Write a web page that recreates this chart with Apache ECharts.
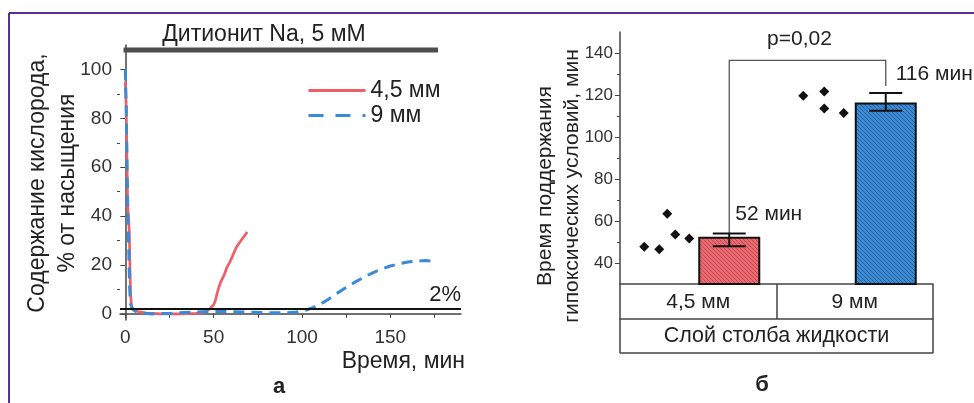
<!DOCTYPE html>
<html>
<head>
<meta charset="utf-8">
<script src="https://cdn.jsdelivr.net/npm/echarts@6/dist/echarts.min.js"></script>
<style>
html,body{margin:0;padding:0;background:#fff;}
#c{width:974px;height:403px;}
</style>
</head>
<body>
<div id="c"></div>
<script>
// ---------- DATA: panel а ----------
const times45 = [0, 0.5, 1, 1.3, 1.8, 2.3, 2.6, 3, 3.5, 5, 8, 12, 20, 30, 40, 44, 46, 48, 50, 51, 52, 53, 54, 55, 56, 57.5, 59, 60, 61.5, 63, 64.5, 66, 67.5, 69];
const o2_45   = [95, 85, 60, 45, 40, 33, 20, 8, 3, 1.5, 0.8, 0.3, 0, 0, 0.2, 0.6, 1.2, 2.2, 3.8, 5.5, 8.5, 11, 13, 14.5, 16, 19, 21, 22.5, 25, 27.5, 29, 30.5, 32, 33.5];
const times9  = [0, 0.5, 1, 1.5, 2, 2.5, 3, 4, 6, 10, 15, 25, 40, 50, 60, 70, 80, 90, 97, 102, 106, 110, 115, 120, 125, 130, 135, 140, 145, 150, 155, 160, 165, 170, 175];
const o2_9    = [100, 85, 60, 40, 25, 10, 4, 2, 1, 0.3, 0, 0.2, 0.8, 1, 0.9, 0.7, 0.5, 0.4, 0.8, 1.5, 2.5, 3.8, 6, 8.5, 10.8, 13, 15, 16.8, 18.3, 19.6, 20.5, 21.2, 21.6, 21.8, 21.5];
const seriesNamesA = ['4,5 мм', '9 мм'];
const thresholdPct = 2;
const dithioniteSpan = [-1, 177];
const dithioniteLevel = 108;
const xTicksA = [0, 50, 100, 150];
const xMinorTicksA = [25, 75, 125, 175];
const yTicksA = [0, 20, 40, 60, 80, 100];
const yMinorTicksA = [10, 30, 50, 70, 90];

// ---------- DATA: panel б ----------
const groups = ['4,5 мм', '9 мм'];
const meanMin = [52, 116];
const errLow = [48, 112.5];
const errHigh = [54, 121];
const points45 = [47.7, 46.5, 63.5, 53.6, 51.7];
const points9 = [119.6, 121.7, 113.6, 111.4];
const bracketLevel = 136.5;
const pLabel = 'p=0,02';
const yTicksB = [40, 60, 80, 100, 120, 140];
const yMinorTicksB = [50, 70, 90, 110, 130];
const groupAxisLabel = ['Слой столба жидкости'];

// ---------- STYLE ----------
const FONT = '"Liberation Sans", Arial, sans-serif';
const AX = '#444';
const BAR_SHIFT = 31, BAR_W = 60, CAP_W = 33;
const JITTER = [[-54, -39, -31, -23, -9], [-51.5, -30.5, -30.5, -11]];
const Y_MIN_B = 30;
const RED = '#ef5d66', BLUE = '#3a8ad6';

function hatch(base, stripe) {
  const c = document.createElement('canvas');
  c.width = 4; c.height = 4;
  const g = c.getContext('2d');
  g.fillStyle = base; g.fillRect(0, 0, 4, 4);
  g.strokeStyle = stripe; g.lineWidth = 1;
  g.beginPath();
  g.moveTo(-1, -1); g.lineTo(5, 5);
  g.moveTo(-1, 3); g.lineTo(1, 5);
  g.moveTo(3, -1); g.lineTo(5, 1);
  g.stroke();
  return { image: c, repeat: 'repeat' };
}
const barFills = [hatch('#ea6a72', 'rgba(150,30,45,0.45)'), hatch('#3d8bd3', 'rgba(15,55,115,0.5)')];

const chart = echarts.init(document.getElementById('c'), null, { renderer: 'canvas' });

function zip(a, b) { return a.map((v, i) => [v, b[i]]); }

const pointData = [];
points45.forEach((v, j) => pointData.push([0, v, j]));
points9.forEach((v, j) => pointData.push([1, v, j]));

function txt(text, x, y, opts) {
  return Object.assign({
    type: 'text', x: x, y: y,
    style: Object.assign({ text: text, fontSize: 23, fontFamily: FONT, fill: '#222', textAlign: 'center', textVerticalAlign: 'middle' }, opts && opts.style || {})
  }, opts && opts.el || {});
}

const option = {
  animation: false,
  textStyle: { fontFamily: FONT },
  grid: [
    { left: 120, top: 45, width: 341, height: 275 },
    { left: 620, top: 32, width: 313, height: 252 }
  ],
  legend: {
    data: [
      { name: seriesNamesA[0], lineStyle: { color: RED, width: 3, type: 'solid' } },
      { name: seriesNamesA[1], lineStyle: { color: BLUE, width: 3, type: [15, 12] } }
    ],
    orient: 'vertical',
    left: 302, top: 74,
    itemWidth: 57, itemHeight: 14, itemGap: 2,
    itemStyle: { opacity: 0 },
    textStyle: { fontSize: 23, color: '#222', fontFamily: FONT }
  },
  xAxis: [
    {
      type: 'value', gridIndex: 0, min: -3, max: 190,
      axisLine: { show: true, lineStyle: { color: AX, width: 1.5 } },
      axisTick: { show: true, customValues: xTicksA.concat(xMinorTicksA), length: 4, lineStyle: { color: AX } },
      axisLabel: { customValues: xTicksA, fontSize: 19, color: '#333', margin: 8, fontFamily: FONT },
      splitLine: { show: false }
    },
    {
      type: 'category', gridIndex: 1, data: groups, position: 'bottom', offset: 0,
      axisLine: { show: true, lineStyle: { color: AX, width: 1.5 } },
      axisTick: { show: true, alignWithLabel: false, interval: 0, length: 35, lineStyle: { color: AX, width: 1.5 } },
      axisLabel: { interval: 0, fontSize: 21, color: '#222', margin: 8, fontFamily: FONT },
      splitLine: { show: false }
    },
    {
      type: 'category', gridIndex: 1, data: groupAxisLabel, position: 'bottom', offset: 35,
      axisLine: { show: true, lineStyle: { color: AX, width: 1.5 } },
      axisTick: { show: true, alignWithLabel: false, interval: 0, length: 34, lineStyle: { color: AX, width: 1.5 } },
      axisLabel: { interval: 0, fontSize: 21.5, color: '#222', margin: 6, fontFamily: FONT },
      splitLine: { show: false }
    }
  ],
  yAxis: [
    {
      type: 'value', gridIndex: 0, min: -2.5, max: 110,
      axisLine: { show: true, lineStyle: { color: AX, width: 1.5 } },
      axisTick: { show: true, customValues: yTicksA, length: 5, lineStyle: { color: AX } },
      axisLabel: { customValues: yTicksA, fontSize: 19, color: '#333', margin: 8, fontFamily: FONT },
      splitLine: { show: false }
    },
    {
      type: 'value', gridIndex: 0, min: -2.5, max: 110, position: 'left',
      axisLine: { show: false },
      axisTick: { show: true, customValues: yMinorTicksA, length: 3, lineStyle: { color: AX } },
      axisLabel: { show: false },
      splitLine: { show: false }
    },
    {
      type: 'value', gridIndex: 1, min: Y_MIN_B, max: 150,
      axisLine: { show: true, lineStyle: { color: AX, width: 1.5 } },
      axisTick: { show: true, customValues: yTicksB, length: 5, lineStyle: { color: AX } },
      axisLabel: { customValues: yTicksB, fontSize: 17, color: '#333', margin: 7, fontFamily: FONT },
      splitLine: { show: false }
    },
    {
      type: 'value', gridIndex: 1, min: Y_MIN_B, max: 150, position: 'left',
      axisLine: { show: false },
      axisTick: { show: true, customValues: yMinorTicksB, length: 3, lineStyle: { color: AX } },
      axisLabel: { show: false },
      splitLine: { show: false }
    }
  ],
  series: [
    {
      name: 'Дитионит Na, 5 мМ', type: 'line', xAxisIndex: 0, yAxisIndex: 0,
      data: [[dithioniteSpan[0], dithioniteLevel], [dithioniteSpan[1], dithioniteLevel]],
      symbol: 'none', lineStyle: { color: '#4d4d4d', width: 5 }, itemStyle: { color: '#4d4d4d' }, clip: false, z: 2
    },
    {
      name: seriesNamesA[0], type: 'line', xAxisIndex: 0, yAxisIndex: 0,
      data: zip(times45, o2_45), symbol: 'none',
      lineStyle: { color: RED, width: 2.7 }, itemStyle: { color: RED }, z: 3,
      markLine: {
        silent: true, symbol: 'none', z: 4,
        data: [{ yAxis: thresholdPct }],
        lineStyle: { color: '#111', width: 2, type: 'solid' },
        label: { show: true, formatter: thresholdPct + '%', position: 'insideEndTop', fontSize: 22, color: '#222', fontFamily: FONT, distance: [0, 3] }
      }
    },
    {
      name: seriesNamesA[1], type: 'line', xAxisIndex: 0, yAxisIndex: 0,
      data: zip(times9, o2_9), symbol: 'none',
      lineStyle: { color: BLUE, width: 3, type: [11, 7] }, itemStyle: { color: BLUE }, z: 3
    },
    {
      type: 'custom', xAxisIndex: 1, yAxisIndex: 2, z: 3,
      data: groups.map((g, i) => [i, meanMin[i], errLow[i], errHigh[i]]),
      renderItem: function (params, api) {
        const i = api.value(0);
        const top = api.coord([i, api.value(1)]);
        const base = api.coord([i, Y_MIN_B]);
        const lo = api.coord([i, api.value(2)]);
        const hi = api.coord([i, api.value(3)]);
        const cx = top[0] + BAR_SHIFT;
        return {
          type: 'group', children: [
            { type: 'rect', shape: { x: cx - BAR_W / 2, y: top[1], width: BAR_W, height: base[1] - top[1] },
              style: { fill: barFills[i], stroke: '#111', lineWidth: 2 } },
            { type: 'line', shape: { x1: cx, y1: lo[1], x2: cx, y2: hi[1] }, style: { stroke: '#111', lineWidth: 2 } },
            { type: 'line', shape: { x1: cx - CAP_W / 2, y1: lo[1], x2: cx + CAP_W / 2, y2: lo[1] }, style: { stroke: '#111', lineWidth: 2 } },
            { type: 'line', shape: { x1: cx - CAP_W / 2, y1: hi[1], x2: cx + CAP_W / 2, y2: hi[1] }, style: { stroke: '#111', lineWidth: 2 } },
            { type: 'text', x: cx + 6 + i * 4, y: hi[1] - 19,
              style: { text: api.value(1) + ' мин', fontSize: 21, fontFamily: FONT, fill: '#222', textAlign: 'left', textVerticalAlign: 'middle' } }
          ]
        };
      }
    },
    {
      type: 'custom', xAxisIndex: 1, yAxisIndex: 2, z: 4,
      data: pointData,
      renderItem: function (params, api) {
        const c = api.value(0);
        const p = api.coord([c, api.value(1)]);
        const x = p[0] + JITTER[c][api.value(2)], y = p[1], r = 5;
        return { type: 'polygon', shape: { points: [[x, y - r], [x + r, y], [x, y + r], [x - r, y]] }, style: { fill: '#111' } };
      }
    },
    {
      type: 'custom', xAxisIndex: 1, yAxisIndex: 2, z: 2,
      data: [[0, 1]],
      renderItem: function (params, api) {
        const a = api.coord([api.value(0), errHigh[0]]);
        const b = api.coord([api.value(1), errHigh[1]]);
        const lvl = api.coord([0, bracketLevel])[1];
        const xa = a[0] + BAR_SHIFT, xb = b[0] + BAR_SHIFT;
        return {
          type: 'group', children: [
            { type: 'polyline', shape: { points: [[xa, a[1]], [xa, lvl], [xb, lvl], [xb, b[1] - 7]] }, style: { stroke: '#555', lineWidth: 1.3, fill: null } },
            { type: 'text', x: (xa + xb) / 2 - 8, y: lvl - 21, style: { text: pLabel, fontSize: 21, fontFamily: FONT, fill: '#222', textAlign: 'center', textVerticalAlign: 'middle' } }
          ]
        };
      }
    }
  ],
  graphic: [
    { type: 'line', shape: { x1: 9, y1: 13, x2: 974, y2: 13 }, style: { stroke: '#5b2e95', lineWidth: 2 } },
    { type: 'line', shape: { x1: 9, y1: 13, x2: 9, y2: 403 }, style: { stroke: '#5b2e95', lineWidth: 2 } },
    txt('Дитионит Na, 5 мМ', 264, 35),
    txt('Содержание кислорода,', 38, 183, { el: { rotation: Math.PI / 2 } }),
    txt('% от насыщения', 68, 183, { el: { rotation: Math.PI / 2 } }),
    txt('Время, мин', 465, 362, { style: { textAlign: 'right' } }),
    txt('а', 279, 387, { style: { fontWeight: 'bold', fontSize: 22 } }),
    txt('Время поддержания', 545, 186, { el: { rotation: Math.PI / 2 }, style: { fontSize: 21 } }),
    txt('гипоксических условий, мин', 572, 186, { el: { rotation: Math.PI / 2 }, style: { fontSize: 21 } }),
    { type: 'line', shape: { x1: 620, y1: 353, x2: 933, y2: 353 }, style: { stroke: AX, lineWidth: 1.5 } },
    txt('б', 762, 385, { style: { fontWeight: 'bold', fontSize: 22 } })
  ]
};
chart.setOption(option);
</script>
</body>
</html>
